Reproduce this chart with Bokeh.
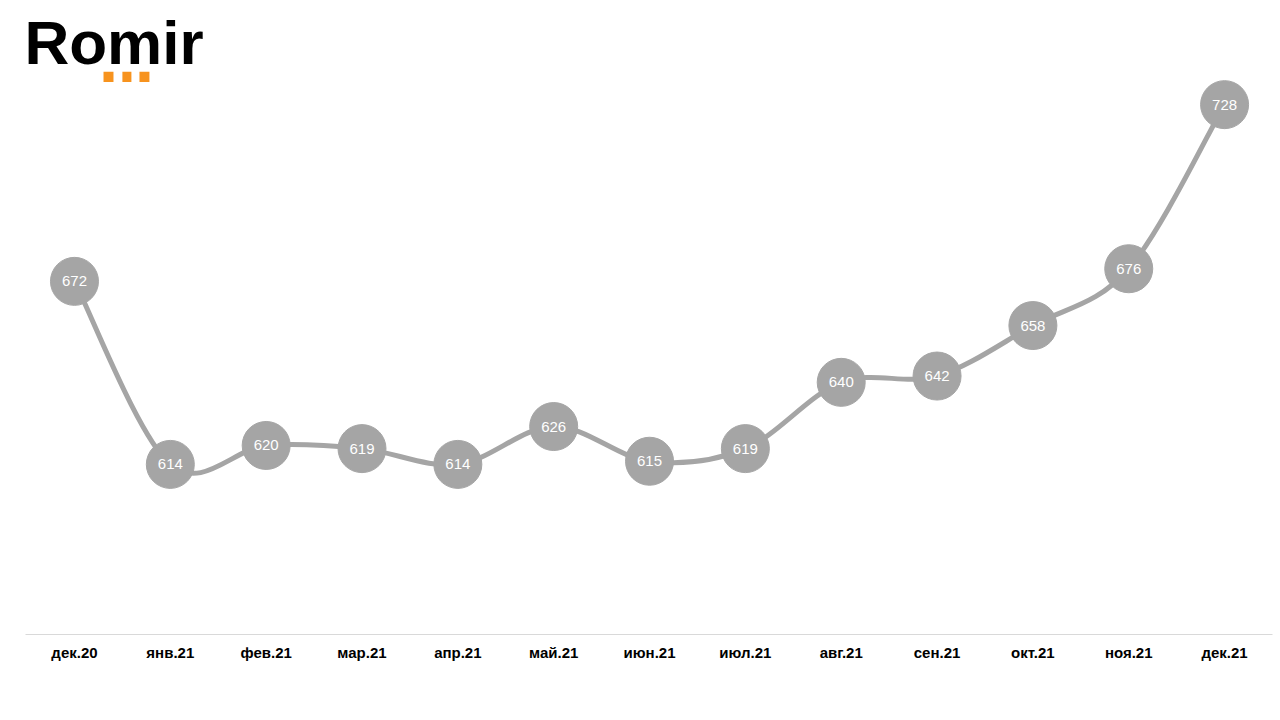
from bokeh.plotting import figure
from bokeh.models import ColumnDataSource, FixedTicker, Label, Range1d
from bokeh.core.properties import value
from bokeh.embed import file_html
from bokeh.resources import INLINE

months = ["дек.20", "янв.21", "фев.21", "мар.21", "апр.21", "май.21", "июн.21",
          "июл.21", "авг.21", "сен.21", "окт.21", "ноя.21", "дек.21"]
values = [672, 614, 620, 619, 614, 626, 615, 619, 640, 642, 658, 676, 728]

xs = list(range(len(values)))
GREY = "#a5a5a5"

p = figure(width=1280, height=720, output_backend="svg", toolbar_location=None,
           x_range=Range1d(-0.511, 12.5), y_range=Range1d(560.1, 761.0),
           min_border_left=25, min_border_right=8, min_border_top=0, min_border_bottom=86,
           outline_line_color=None, background_fill_color="white", border_fill_color="white")
p.grid.visible = False
p.yaxis.visible = False

# smooth line (Catmull-Rom -> cubic Bezier segments)
x0, y0, x1, y1, cx0, cy0, cx1, cy1 = [], [], [], [], [], [], [], []
n = len(values)
for i in range(n - 1):
    pm = (xs[max(i - 1, 0)], values[max(i - 1, 0)])
    pa = (xs[i], values[i])
    pb = (xs[i + 1], values[i + 1])
    pn = (xs[min(i + 2, n - 1)], values[min(i + 2, n - 1)])
    x0.append(pa[0]); y0.append(pa[1]); x1.append(pb[0]); y1.append(pb[1])
    cx0.append(pa[0] + (pb[0] - pm[0]) / 6); cy0.append(pa[1] + (pb[1] - pm[1]) / 6)
    cx1.append(pb[0] - (pn[0] - pa[0]) / 6); cy1.append(pb[1] - (pn[1] - pa[1]) / 6)
p.bezier(x0=x0, y0=y0, x1=x1, y1=y1, cx0=cx0, cy0=cy0, cx1=cx1, cy1=cy1,
         line_color=GREY, line_width=5)

src = ColumnDataSource(dict(x=xs, y=values, t=[str(v) for v in values]))
p.scatter("x", "y", source=src, size=48, fill_color=GREY, line_color=GREY)
p.text("x", "y", text="t", source=src, text_color="white", text_font=value("Liberation Sans"),
       text_font_size="15px", text_align="center", text_baseline="middle")

ax = p.xaxis[0]
ax.ticker = FixedTicker(ticks=xs)
ax.major_label_overrides = {i: m for i, m in enumerate(months)}
ax.axis_line_color = "#d9d9d9"
ax.axis_line_width = 1
ax.major_tick_line_color = None
ax.minor_tick_line_color = None
ax.major_label_text_font = "Liberation Sans"
ax.major_label_text_font_style = "bold"
ax.major_label_text_font_size = "15px"
ax.major_label_text_color = "black"
ax.major_label_standoff = 3

# logo
p.add_layout(Label(x=-0.522, y=747.6, text="Romir", text_font="Liberation Sans",
                   text_font_style="bold", text_font_size="62px", text_color="black",
                   text_baseline="alphabetic"))
p.quad(left=[0.303, 0.500, 0.678], right=[0.407, 0.594, 0.782],
       top=[738.4, 738.4, 738.4], bottom=[735.2, 735.2, 735.2],
       fill_color="#f7931e", line_color=None)

open("out.html", "w").write(file_html(p, INLINE))
